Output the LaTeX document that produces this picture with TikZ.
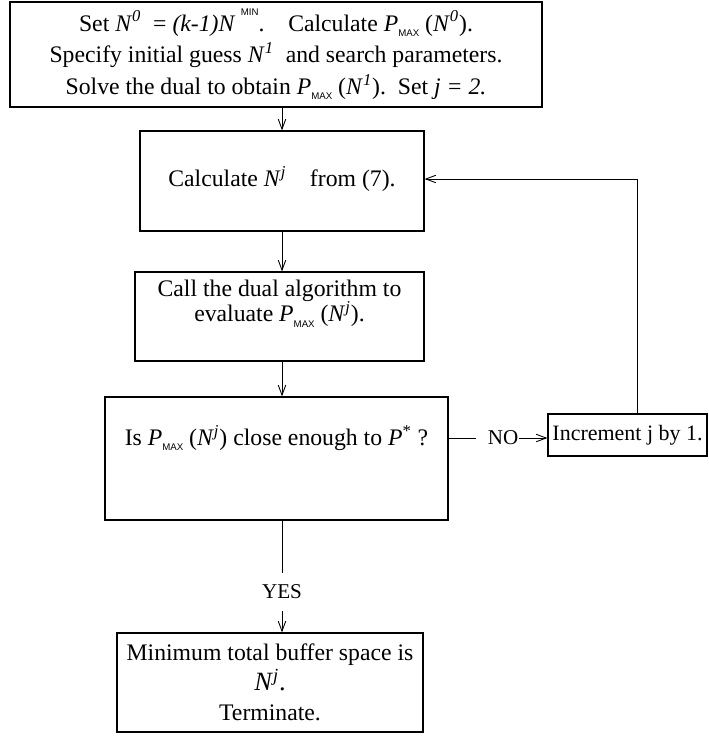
\documentclass[tikz,border=0pt]{standalone}
\usepackage{fontspec}
\setmainfont{Liberation Serif}
\setsansfont{Liberation Sans}
\usetikzlibrary{arrows.meta}
\newcommand{\vN}[1]{\textit{N}\textsuperscript{\textit{#1}}}
\newcommand{\Pmax}{\textit{P}\raisebox{-0.5ex}{\fontsize{5.5}{5.5}\selectfont\sffamily MAX}}
\newcommand{\padlow}[1]{\rule[-#1]{0pt}{#1}}
\tikzset{
  box/.style={draw, line width=0.7pt, inner sep=0pt, align=center,
    font=\fontsize{13.5}{18}\selectfont},
  flow/.style={line width=0.5pt, -{Straight Barb[length=2mm,width=1.5mm]}},
  tag/.style={font=\fontsize{12}{13}\selectfont, inner sep=0pt}
}
\begin{document}
\begin{tikzpicture}[x=0.02cm,y=-0.02cm]
  \useasboundingbox (0,0) rectangle (709,737);
  \node[box, minimum width=10.64cm, minimum height=2.1cm] (init) at (276,54.5)
    {Set \vN{0}\ \ = \textit{(k-1)N}\raisebox{1.4ex}{\fontsize{5.5}{5.5}\selectfont\sffamily\ \ MIN}.\quad Calculate \Pmax\ (\vN{0}).\\
     Specify initial guess \vN{1}\ \ and search parameters.\\
     Solve the dual to obtain \Pmax\ (\vN{1}).\ \ Set \textit{j = 2.}};
  \node[box, minimum width=5.68cm, minimum height=2.0cm] (work) at (282,181)
    {Calculate \vN{j}\quad from (7).\padlow{0.18cm}};
  \node[box, minimum width=5.78cm, minimum height=1.78cm,
    font=\fontsize{13.5}{14.5}\selectfont] (eval) at (279.5,316.5)
    {Call the dual algorithm to\\ evaluate \Pmax\ (\vN{j}).\padlow{0.62cm}};
  \node[box, minimum width=6.86cm, minimum height=2.46cm] (test) at (276.5,458.5)
    {Is\ \Pmax\ (\vN{j})\ close enough to \textit{P}\textsuperscript{*}\ ?\padlow{0.93cm}};
  \node[box, minimum width=6.12cm, minimum height=1.98cm, font=\fontsize{13.5}{17}\selectfont] (stop) at (270,682.5)
    {Minimum total buffer space is\\ {\fontsize{15}{17}\selectfont\vN{j}.}\\ Terminate.};
  \node[box, minimum width=3.18cm, minimum height=0.84cm, font=\fontsize{12.5}{14}\selectfont] (incr) at (627.5,435)
    {Increment j by 1.};
  \node[tag, inner ysep=0.24cm] (yes) at (282,592) {YES};
  \node[tag] (no) at (503,438) {NO};
  \coordinate (back) at (637,179);

  \draw[flow] (init.south -| work.north) -- (work.north);
  \draw[flow] (work.south) -- (work.south |- eval.north);
  \draw[flow] (eval.south -| work.south) -- (work.south |- test.north);
  \draw[line width=0.5pt] (test.south -| work.south) -- (yes.north);
  \draw[flow] (yes.south) -- (yes.south |- stop.north);
  \draw[line width=0.5pt] (test.east |- no) -- ([xshift=-0.22cm]no.west);
  \draw[flow] (no.east) -- (no.east -| incr.west);
  \draw[flow] (incr.north -| back) -- (back) -- (work.east |- back);
\end{tikzpicture}
\end{document}
